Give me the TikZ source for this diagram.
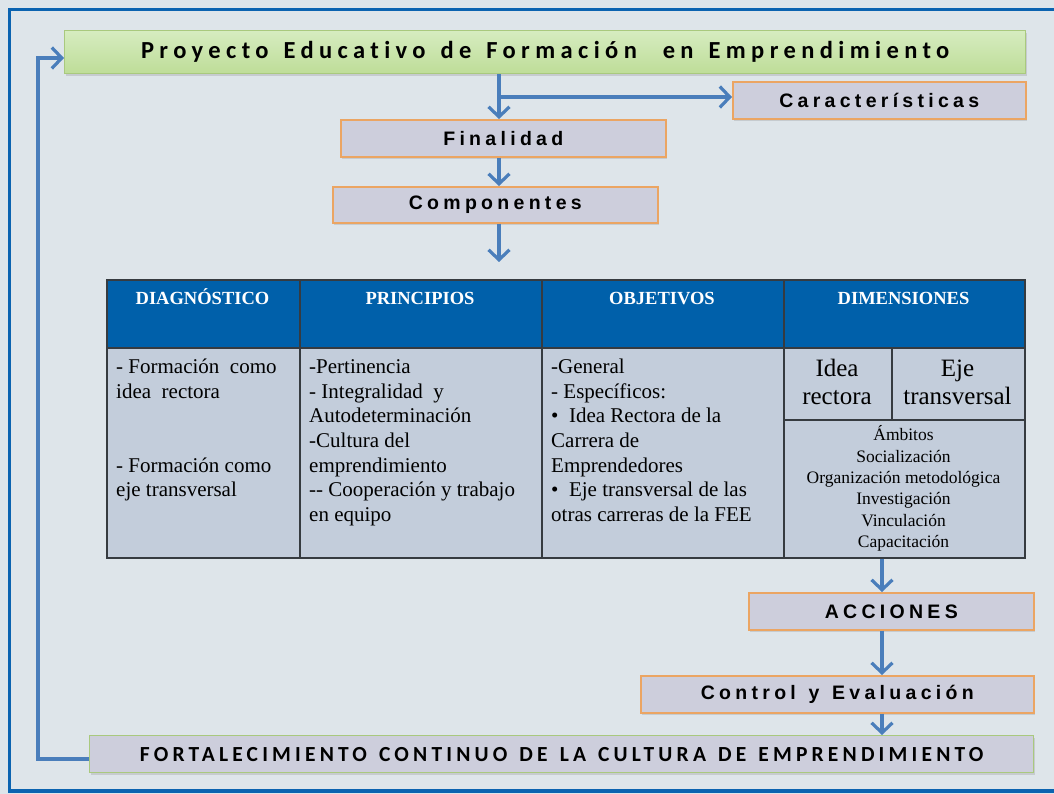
\documentclass[tikz,border=0pt]{standalone}
\usepackage{fontspec}
\setmainfont{Liberation Serif}
\newfontfamily\lblfont[LetterSpace=22]{Liberation Sans}
\newfontfamily\ttlfont[LetterSpace=22,Ligatures=CommonOff]{Carlito}
\newfontfamily\fortfont[LetterSpace=19.5,Ligatures=CommonOff]{Carlito}
\newcommand{\fsp}{\hspace{3pt}\ }
\newcommand{\tsp}{\hspace{4pt}\ }
\usetikzlibrary{arrows.meta,shadows}
\definecolor{bgc}{HTML}{DEE5EA}
\definecolor{framec}{HTML}{0B63B0}
\definecolor{arrc}{HTML}{4A7EBB}
\definecolor{lavc}{HTML}{CDCEDC}
\definecolor{orgc}{HTML}{EBA563}
\definecolor{grnb}{HTML}{A9C97E}
\definecolor{grnt}{HTML}{D6ECC0}
\definecolor{grnbot}{HTML}{BEDD98}
\definecolor{hdrc}{HTML}{0060AA}
\definecolor{bodyc}{HTML}{C3CDDB}
\definecolor{tlinec}{HTML}{363B40}
\begin{document}
\begin{tikzpicture}[x=1pt,y=-1pt,
  shd/.style={drop shadow={opacity=0.25,shadow xshift=1.5pt,shadow yshift=-2pt}},
  lbox/.style={shd,rectangle,draw=orgc,line width=1.6pt,fill=lavc,inner sep=0pt,anchor=north west,
    font=\lblfont\bfseries\fontsize{19.5}{24}\selectfont},
  ttlbox/.style={shd,rectangle,draw=grnb,line width=1.4pt,top color=grnt,bottom color=grnbot,inner sep=0pt,anchor=north west,
    font=\ttlfont\bfseries\fontsize{24.5}{28}\selectfont},
  fortbox/.style={shd,rectangle,draw=grnb,line width=1.4pt,fill=lavc,inner sep=0pt,anchor=north west,
    font=\fortfont\bfseries\fontsize{21.5}{25}\selectfont},
  arr/.style={draw=arrc,line width=3.2pt,-{Straight Barb[length=10pt,width=21pt]}},
  hcell/.style={rectangle,draw=tlinec,line width=1.5pt,fill=hdrc,inner sep=0pt,anchor=north west},
  bcell/.style={rectangle,draw=tlinec,line width=1.5pt,fill=bodyc,inner sep=0pt,anchor=north west},
  htxt/.style={anchor=base,inner sep=0pt,text=white,font=\bfseries\fontsize{18.5}{22}\selectfont},
  btxt/.style={anchor=base west,inner sep=0pt,font=\fontsize{21}{24}\selectfont},
  dtxt/.style={anchor=base,inner sep=0pt,font=\fontsize{25}{28}\selectfont},
  atxt/.style={anchor=base,inner sep=0pt,font=\fontsize{17.5}{21}\selectfont}]
\useasboundingbox (0,0) rectangle (1054,794);
\fill[bgc] (0,0) rectangle (1054,794);
\draw[framec,line width=3.5pt] (1060,9.5) -- (9.5,9.5) -- (9.5,791) -- (1060,791);

% boxes
\node[ttlbox,minimum width=961pt,minimum height=43pt] (title) at (64,30) {Proyecto\tsp Educativo\tsp de\tsp Formación\tsp\ en\tsp Emprendimiento};
\node[lbox,minimum width=293pt,minimum height=37pt] (car) at (732,81) {Características};
\node[lbox,minimum width=325pt,minimum height=37pt] (fin) at (340,119) {Finalidad};
\node[lbox,minimum width=325pt,minimum height=36pt] (comp) at (332,186) {Componentes};
\node[lbox,minimum width=285pt,minimum height=37pt] (acc) at (748,592) {ACCIONES};
\node[lbox,minimum width=393pt,minimum height=37pt] (ctrl) at (640,675) {Control\hspace{3pt}\ y\hspace{3pt}\ Evaluación};
\node[fortbox,minimum width=944pt,minimum height=37pt] (fort) at (89,735) {FORTALECIMIENTO\fsp CONTINUO\fsp DE\fsp LA\fsp CULTURA\fsp DE\fsp EMPRENDIMIENTO};

% table
\node[hcell,minimum width=193pt,minimum height=68pt] (h1) at (106,279) {};
\node[hcell,minimum width=242pt,minimum height=68pt] (h2) at (299,279) {};
\node[hcell,minimum width=242pt,minimum height=68pt] (h3) at (541,279) {};
\node[hcell,minimum width=241pt,minimum height=68pt] (h4) at (783,279) {};
\node[bcell,minimum width=193pt,minimum height=210pt] (b1) at (106,347) {};
\node[bcell,minimum width=242pt,minimum height=210pt] (b2) at (299,347) {};
\node[bcell,minimum width=242pt,minimum height=210pt] (b3) at (541,347) {};
\node[bcell,minimum width=108pt,minimum height=72pt] (dIdea) at (783,347) {};
\node[bcell,minimum width=133pt,minimum height=72pt] (dEje) at (891,347) {};
\node[bcell,minimum width=241pt,minimum height=138pt] (dAmb) at (783,419) {};

\node[htxt] (ht1) at (202.5,304) {DIAGNÓSTICO};
\node[htxt] (ht2) at (420,304) {PRINCIPIOS};
\node[htxt] (ht3) at (662,304) {OBJETIVOS};
\node[htxt] (ht4) at (903.5,304) {DIMENSIONES};

\node[btxt] (d1) at (116,373.3) {- Formación\ \ como};
\node[btxt] (d2) at (116,398) {idea\ \ rectora};
\node[btxt] (d3) at (116,472.3) {- Formación como};
\node[btxt] (d4) at (116,496.7) {eje transversal};

\foreach [count=\i] \t in {-Pertinencia,{- Integralidad\ \ y},Autodeterminación,-Cultura del,emprendimiento,{-{}- Cooperación y trabajo},en equipo}
  \node[btxt] (p\i) at (309,{373.3+24.7*(\i-1)}) {\t};

\foreach [count=\i] \t in {-General,{- Específicos:},{•\ \ Idea Rectora de la},Carrera de,Emprendedores,{•\ \ Eje transversal de las},otras carreras de la FEE}
  \node[btxt] (o\i) at (551,{373.3+24.7*(\i-1)}) {\t};

\node[dtxt] (i1) at (837,376) {Idea};
\node[dtxt] (i2) at (837,404.5) {rectora};
\node[dtxt] (e1) at (957.5,376) {Eje};
\node[dtxt] (e2) at (957.5,404.5) {transversal};

\foreach [count=\i] \t in {Ámbitos,Socialización,Organización metodológica,Investigación,Vinculación,Capacitación}
  \node[atxt] (a\i) at (903.5,{440.7+21.4*(\i-1)}) {\t};

% connectors
\coordinate (vx) at (499,0);
\coordinate (br) at (499,97);
\coordinate (ax) at (882,0);
\coordinate (cend) at (499,262);
\coordinate (fb) at (38,58);
\coordinate (fy) at (0,759);
\draw[arr] (title.south -| vx) -- (fin.north -| vx);
\draw[arr] (br) -- (car.west |- br);
\draw[arr] (comp.south -| vx) -- (cend);
\draw[arr] (fin.south -| vx) -- (comp.north -| vx);
\draw[arr] (dAmb.south -| ax) -- (acc.north -| ax);
\draw[arr] (acc.south -| ax) -- (ctrl.north -| ax);
\draw[arr] (ctrl.south -| ax) -- (fort.north -| ax);
\draw[arr] (fort.west |- fy) -| (fb) -- (title.west |- fb);
\end{tikzpicture}
\end{document}
